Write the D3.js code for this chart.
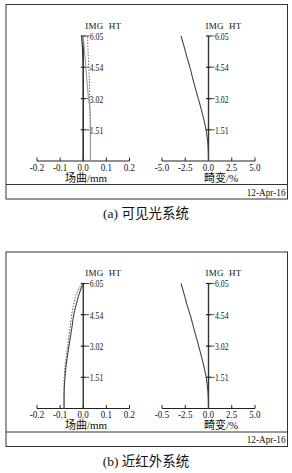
<!DOCTYPE html>
<html><head><meta charset="utf-8">
<script src="https://cdn.jsdelivr.net/npm/d3@7"></script>
<style>html,body{margin:0;padding:0;background:#fff;}svg{display:block;}</style>
</head><body>
<script>
// ---- data ----
const heights = [0, 0.5, 1.0, 1.51, 2.0, 2.5, 3.02, 3.5, 4.0, 4.54, 5.0, 5.5, 6.05];
const imgHtTicks = [1.51, 3.02, 4.54, 6.05];
const fieldTicks = [-0.2, -0.1, 0, 0.1, 0.2];
const fieldTickLabels = ["-0.2", "-0.1", "0.0", "0.1", "0.2"];
const distTicks = [-5, -2.5, 0, 2.5, 5];
const distTickLabelsA = ["-5.0", "-2.5", "0.0", "2.5", "5.0"];
const distTickLabelsB = ["-0.5", "-2.5", "0.0", "2.5", "5.0"];
// panel (a) visible
const fieldA_T = [0, 0, 0, 0, 0, 0, 0, 0, 0, 0, -0.002, -0.004, -0.007];
const fieldA_S = [0.031, 0.031, 0.031, 0.031, 0.031, 0.029, 0.023, 0.019, 0.015, 0.011, 0.008, 0.004, 0.0];
const fieldA_D = [0.031, 0.031, 0.031, 0.030, 0.030, 0.029, 0.028, 0.027, 0.026, 0.024, 0.022, 0.020, 0.019];
const distA = [0, -0.02, -0.1, -0.27, -0.5, -0.78, -1.1, -1.4, -1.7, -2.0, -2.3, -2.6, -2.95];
// panel (b) near infrared
const fieldB_S = [-0.083, -0.083, -0.082, -0.079, -0.075, -0.069, -0.062, -0.055, -0.048, -0.041, -0.031, -0.019, -0.001];
const fieldB_D = [-0.083, -0.083, -0.083, -0.082, -0.079, -0.074, -0.067, -0.062, -0.056, -0.050, -0.042, -0.031, -0.006];
const distB = [0, -0.02, -0.1, -0.25, -0.48, -0.75, -1.05, -1.35, -1.65, -1.98, -2.3, -2.6, -2.95];
const dateText = "12-Apr-16";
const captions = ["(a) 可见光系统", "(b) 近红外系统"];
const fieldTitle = "场曲/mm";
const distTitle = "畸变/%";

const W = 292, H = 473;
const svg = d3.select("body").append("svg").attr("width", W).attr("height", H);
svg.append("rect").attr("width", W).attr("height", H).attr("fill", "#fff");
const serif = "'Liberation Serif','Times New Roman',serif";
const cjk = "'Liberation Serif','Noto Sans CJK SC',serif";

const panels = [
  {off: 0, top: 36, fields: [{v: fieldA_D, c: "#666", dash: "1.5,1.5"}, {v: fieldA_S, c: "#999"}, {v: fieldA_T, c: "#333"}], dist: distA, distLabels: distTickLabelsA, caption: captions[0]},
  {off: 247.5, top: 36, fields: [{v: fieldB_D, c: "#555", dash: "1.5,1.5"}, {v: fieldB_S, c: "#444"}], dist: distB, distLabels: distTickLabelsB, caption: captions[1]}
];

function sText(g, x, y, txt, size, sx, anchor, family) {
  g.append("text")
    .attr("transform", `translate(${x},${y}) scale(${sx},1)`)
    .attr("text-anchor", anchor || "start")
    .attr("dominant-baseline", "central")
    .attr("font-family", family || serif)
    .attr("font-size", size)
    .attr("fill", "#111")
    .text(txt);
}

panels.forEach(p => {
  const g = svg.append("g").attr("transform", `translate(0,${p.off})`);
  const base = 161;
  // box
  g.append("rect").attr("x", 6).attr("y", 4.5).attr("width", 281.5).attr("height", 194.5)
    .attr("fill", "none").attr("stroke", "#333").attr("stroke-width", 1);
  g.append("line").attr("x1", 6).attr("x2", 287.5).attr("y1", 184.5).attr("y2", 184.5)
    .attr("stroke", "#333").attr("stroke-width", 1);
  sText(g, 285.5, 192, dateText, 11, 0.84, "end");

  const y = d3.scaleLinear().domain([0, 6.05]).range([base, p.top]);
  const xF = d3.scaleLinear().domain([-0.2, 0.2]).range([37, 129.5]);
  const xD = d3.scaleLinear().domain([-5, 5]).range([162, 255]);

  [[xF, fieldTicks, fieldTickLabels, fieldTitle, 86], [xD, distTicks, p.distLabels, distTitle, 221]].forEach(([x, ticks, labels, title, tx], k) => {
    const ax = x(0);
    // horizontal axis
    g.append("line").attr("x1", x(ticks[0])).attr("x2", x(ticks[ticks.length - 1]))
      .attr("y1", base).attr("y2", base).attr("stroke", "#222").attr("stroke-width", 1.2);
    ticks.forEach((t, i) => {
      g.append("line").attr("x1", x(t)).attr("x2", x(t)).attr("y1", base).attr("y2", base - 3.5)
        .attr("stroke", "#222").attr("stroke-width", 1);
      sText(g, x(t), base + 6, labels[i], 11, 0.82, "middle");
    });
    sText(g, tx, base + 16.5, title, 11, 1, "middle", cjk);
    // vertical IMG HT axis
    g.append("line").attr("x1", ax).attr("x2", ax).attr("y1", base).attr("y2", y(6.05))
      .attr("stroke", "#333").attr("stroke-width", 1.4);
    imgHtTicks.forEach(h => {
      g.append("line").attr("x1", ax - 2.5).attr("x2", ax + 2.5).attr("y1", y(h)).attr("y2", y(h))
        .attr("stroke", "#222").attr("stroke-width", 1.2);
      g.append("line").attr("x1", ax + 2.5).attr("x2", ax + 6).attr("y1", y(h)).attr("y2", y(h))
        .attr("stroke", "#222").attr("stroke-width", 0.8);
    });
    imgHtTicks.forEach(h => sText(g, ax + 6.5, y(h) + 0.5, h.toFixed(2), 10.5, 0.74, "start"));
    g.append("text").attr("x", ax + (k === 0 ? 2 : -3)).attr("y", y(6.05) - 10.5)
      .attr("dominant-baseline", "central").attr("font-family", serif)
      .attr("font-size", 9).attr("letter-spacing", 0.3).attr("fill", "#111")
      .attr("xml:space", "preserve").text("IMG  HT");

    // curves
    const line = d3.line().x(d => x(d[0])).y(d => y(d[1])).curve(d3.curveMonotoneY);
    if (k === 0) {
      p.fields.forEach(f => {
        g.append("path").datum(f.v.map((v, i) => [v, heights[i]])).attr("d", line)
          .attr("fill", "none").attr("stroke", f.c).attr("stroke-width", f.dash ? 1 : 1.1)
          .attr("stroke-dasharray", f.dash || null);
      });
    } else {
      g.append("path").datum(p.dist.map((v, i) => [v, heights[i]])).attr("d", line)
        .attr("fill", "none").attr("stroke", "#444").attr("stroke-width", 1.1);
    }
  });
  sText(g, 146, 213.5, p.caption, 13.5, 1, "middle", cjk);
});
</script>
</body></html>
